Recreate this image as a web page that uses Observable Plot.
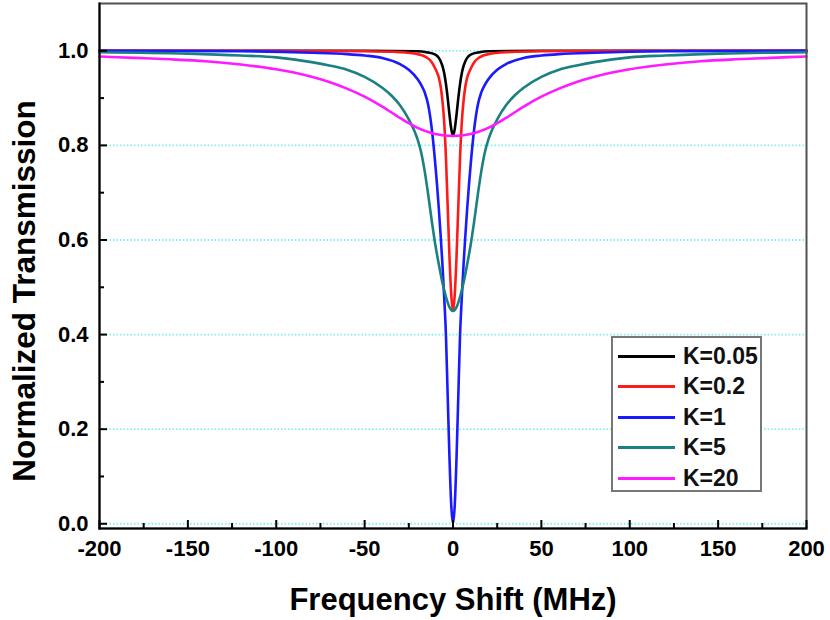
<!DOCTYPE html>
<html>
<head>
<meta charset="utf-8">
<script src="https://cdn.jsdelivr.net/npm/d3@7"></script>
<script src="https://cdn.jsdelivr.net/npm/@observablehq/plot@0.6"></script>
<style>
  body { margin: 0; background: #fff; font-family: "Liberation Sans", Arial, sans-serif; }
  #wrap { position: relative; width: 830px; height: 620px; }
  #legend { position: absolute; left: 611px; top: 336px; width: 151px; height: 156px;
    border: 2px solid #777; box-sizing: border-box; background: #fff; padding-top: 3px; }
  .row { height: 30.5px; display: flex; align-items: center; }
  .sw { width: 57px; height: 3px; margin-left: 5px; margin-right: 8px; }
  .lab { font-weight: bold; font-size: 23px; color: #111; line-height: 1; }
</style>
</head>
<body>
<div id="wrap"></div>
<script>
// ---- data ----
const seriesNames = ["K=0.05", "K=0.2", "K=1", "K=5", "K=20"];
const seriesColors = ["#000000", "#ff1a1a", "#1a1aff", "#1a8080", "#ff1aff"];

const xK005 = [-200,-50,-20,-15,-10,-8,-7,-6,-5,-4,-3,-2,-1,0,1,2,3,4,5,6,7,8,10,15,20,50,200];
const tK005 = [1.0,1.0,0.999,0.997,0.992,0.985,0.978,0.968,0.953,0.93,0.9,0.865,0.835,0.82,0.835,0.865,0.9,0.93,0.953,0.968,0.978,0.985,0.992,0.997,0.999,1.0,1.0];

const xK02 = [-200,-100,-50,-30,-20,-15,-12,-10,-8,-7,-6,-5,-4,-3,-2,-1,0,1,2,3,4,5,6,7,8,10,12,15,20,30,50,100,200];
const tK02 = [1.0,1.0,0.999,0.997,0.993,0.986,0.976,0.962,0.943,0.925,0.895,0.85,0.775,0.67,0.565,0.485,0.45,0.485,0.565,0.67,0.775,0.85,0.895,0.925,0.943,0.962,0.976,0.986,0.993,0.997,0.999,1.0,1.0];

const xK1 = [-200,-120,-80,-60,-50,-40,-30,-25,-20,-18,-16,-14,-12,-10,-9,-8,-7,-6,-5,-4,-3,-2,-1,0,1,2,3,4,5,6,7,8,9,10,12,14,16,18,20,25,30,40,50,60,80,120,200];
const tK1 = [1.0,0.999,0.996,0.993,0.99,0.985,0.972,0.96,0.94,0.928,0.912,0.885,0.835,0.76,0.715,0.665,0.61,0.55,0.48,0.40,0.27,0.14,0.04,0.0,0.04,0.14,0.27,0.40,0.48,0.55,0.61,0.665,0.715,0.76,0.835,0.885,0.912,0.928,0.94,0.96,0.972,0.985,0.99,0.993,0.996,0.999,1.0];

const xK5 = [-200,-150,-120,-100,-80,-70,-60,-50,-40,-35,-30,-25,-22,-20,-18,-16,-14,-12,-10,-8,-6,-4,-2,0,2,4,6,8,10,12,14,16,18,20,22,25,30,35,40,50,60,70,80,100,120,150,200];
const tK5 = [0.997,0.994,0.99,0.986,0.976,0.969,0.96,0.945,0.922,0.906,0.885,0.855,0.832,0.812,0.785,0.745,0.695,0.64,0.59,0.548,0.51,0.48,0.458,0.45,0.458,0.48,0.51,0.548,0.59,0.64,0.695,0.745,0.785,0.812,0.832,0.855,0.885,0.906,0.922,0.945,0.96,0.969,0.976,0.986,0.99,0.994,0.997];

const xK20 = [-200,-180,-160,-140,-120,-100,-90,-80,-70,-60,-50,-40,-30,-20,-10,0,10,20,30,40,50,60,70,80,90,100,120,140,160,180,200];
const tK20 = [0.988,0.985,0.982,0.978,0.971,0.961,0.954,0.945,0.934,0.92,0.903,0.882,0.858,0.837,0.824,0.82,0.824,0.837,0.858,0.882,0.903,0.92,0.934,0.945,0.954,0.961,0.971,0.978,0.982,0.985,0.988];

const yMajorTicks = [0, 0.2, 0.4, 0.6, 0.8, 1.0];
const yMinorTicks = [0.1, 0.3, 0.5, 0.7, 0.9];
const xMajorTicks = [-200, -150, -100, -50, 0, 50, 100, 150, 200];
const xMinorTicks = [-175, -125, -75, -25, 25, 75, 125, 175];
const xTitle = "Frequency Shift (MHz)";
const yTitle = "Normalized Transmission";

// ---- build table ----
const xsList = [xK005, xK02, xK1, xK5, xK20];
const tsList = [tK005, tK02, tK1, tK5, tK20];
const rows = [];
seriesNames.forEach((k, i) => xsList[i].forEach((x, j) => rows.push({k, x, y: tsList[i][j]})));

const plot = Plot.plot({
  width: 830, height: 620,
  marginLeft: 99, marginRight: 24, marginTop: 3, marginBottom: 92,
  x: {domain: [-200, 200]},
  y: {domain: [-0.01, 1.1]},
  color: {domain: seriesNames, range: seriesColors},
  style: {fontFamily: "'Liberation Sans', Arial, sans-serif", fontWeight: "bold", fontSize: "22px", color: "#000", background: "#fff", overflow: "visible"},
  marks: [
    Plot.gridY(yMajorTicks, {stroke: "#80eef5", strokeOpacity: 1, strokeDasharray: "1.5,2", strokeWidth: 1.8}),
    Plot.line(rows, {x: "x", y: "y", z: "k", stroke: "k", strokeWidth: 2.6, curve: "monotone-x"}),
    Plot.frame({stroke: "#505050", strokeWidth: 2}),
    Plot.frame({anchor: "left", stroke: "#000", strokeWidth: 2}),
    Plot.frame({anchor: "bottom", stroke: "#000", strokeWidth: 2}),
    Plot.axisY(yMajorTicks, {tickSize: 8, dx: 8, text: null, strokeWidth: 2, label: null}),
    Plot.axisY(yMinorTicks, {tickSize: 5, dx: 5, text: null, strokeWidth: 2, label: null}),
    Plot.axisY(yMajorTicks, {tickSize: 0, tickPadding: 11, tickFormat: d3.format(".1f"), fontSize: 22, label: null}),
    Plot.axisX(xMajorTicks, {tickSize: 8, dy: -8, text: null, strokeWidth: 2, label: null}),
    Plot.axisX(xMinorTicks, {tickSize: 5, dy: -5, text: null, strokeWidth: 2, label: null}),
    Plot.axisX(xMajorTicks, {tickSize: 0, tickPadding: 12, tickFormat: d => String(d), fontSize: 22, label: null}),
    Plot.text([xTitle], {frameAnchor: "bottom", dy: 72, text: d => d, fontSize: 31, fontWeight: "bold", lineAnchor: "middle"}),
    Plot.text([yTitle], {frameAnchor: "left", dx: -75, dy: 25, rotate: -90, text: d => d, fontSize: 31.5, fontWeight: "bold", textAnchor: "middle", lineAnchor: "middle"})
  ]
});

const wrap = document.getElementById("wrap");
wrap.appendChild(plot);

const legend = document.createElement("div");
legend.id = "legend";
seriesNames.forEach((k, i) => {
  const r = document.createElement("div");
  r.className = "row";
  const sw = document.createElement("div");
  sw.className = "sw";
  sw.style.background = seriesColors[i];
  const lab = document.createElement("span");
  lab.className = "lab";
  lab.textContent = k;
  r.appendChild(sw); r.appendChild(lab);
  legend.appendChild(r);
});
wrap.appendChild(legend);
</script>
</body>
</html>
